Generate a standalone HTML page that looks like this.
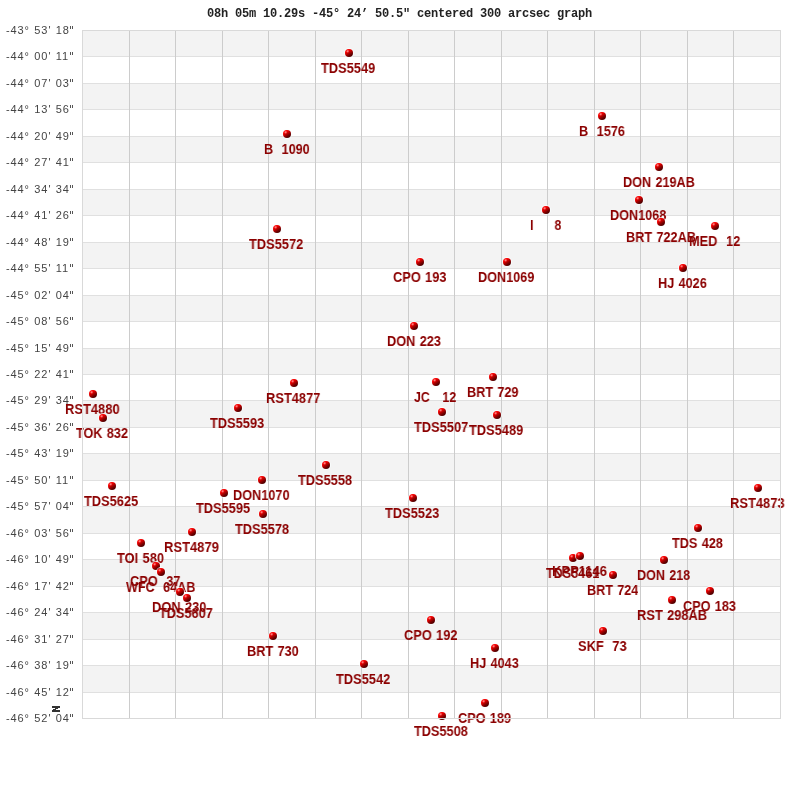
<!DOCTYPE html>
<html><head><meta charset="utf-8"><title>graph</title><style>
html,body{margin:0;padding:0;background:#fff;}
body{width:800px;height:800px;position:relative;overflow:hidden;}
.g{position:absolute;left:0;top:0;}
.t{position:absolute;left:207.1px;top:7px;font:bold 12px/14px "Liberation Mono",monospace;color:#222222;white-space:pre;letter-spacing:-0.2px;will-change:transform;}
.ax{position:absolute;left:6px;font:11px/12px "Liberation Sans",sans-serif;color:#444444;white-space:pre;letter-spacing:0.9px;word-spacing:0.5px;transform:scaleX(1.0);transform-origin:0 0;will-change:transform;}
.q{display:inline-block;vertical-align:top;position:relative;top:1.5px;left:0.5px;width:1px;height:3px;border-left:1px solid #555;border-right:1px solid #555;}
.d{position:absolute;width:8px;height:8px;border-radius:50%;background:radial-gradient(circle at 33% 28%, rgba(255,150,150,1) 0, rgba(255,60,60,0) 22%), linear-gradient(145deg, #ff0000 15%, #ee0000 32%, #c40000 45%, #940000 58%, #640000 72%, #480000 90%);box-shadow:0 0 0 1px rgba(250,255,255,0.75);}
.l{position:absolute;word-spacing:0.9px;font:bold 14.5px/20px "Liberation Sans",sans-serif;color:#8b0000;white-space:pre;transform-origin:0 0;will-change:transform;}
</style></head>
<body>
<svg class="g" width="800" height="800" viewBox="0 0 800 800"><rect x="82" y="30" width="698" height="26" fill="#f3f3f3"/><rect x="82" y="83" width="698" height="26" fill="#f3f3f3"/><rect x="82" y="136" width="698" height="26" fill="#f3f3f3"/><rect x="82" y="189" width="698" height="26" fill="#f3f3f3"/><rect x="82" y="242" width="698" height="26" fill="#f3f3f3"/><rect x="82" y="295" width="698" height="26" fill="#f3f3f3"/><rect x="82" y="348" width="698" height="26" fill="#f3f3f3"/><rect x="82" y="400" width="698" height="27" fill="#f3f3f3"/><rect x="82" y="453" width="698" height="27" fill="#f3f3f3"/><rect x="82" y="506" width="698" height="27" fill="#f3f3f3"/><rect x="82" y="559" width="698" height="27" fill="#f3f3f3"/><rect x="82" y="612" width="698" height="27" fill="#f3f3f3"/><rect x="82" y="665" width="698" height="27" fill="#f3f3f3"/><rect x="82" y="56" width="698" height="1" fill="#e0e0e0"/><rect x="82" y="83" width="698" height="1" fill="#e0e0e0"/><rect x="82" y="109" width="698" height="1" fill="#e0e0e0"/><rect x="82" y="136" width="698" height="1" fill="#e0e0e0"/><rect x="82" y="162" width="698" height="1" fill="#e0e0e0"/><rect x="82" y="189" width="698" height="1" fill="#e0e0e0"/><rect x="82" y="215" width="698" height="1" fill="#e0e0e0"/><rect x="82" y="242" width="698" height="1" fill="#e0e0e0"/><rect x="82" y="268" width="698" height="1" fill="#e0e0e0"/><rect x="82" y="295" width="698" height="1" fill="#e0e0e0"/><rect x="82" y="321" width="698" height="1" fill="#e0e0e0"/><rect x="82" y="348" width="698" height="1" fill="#e0e0e0"/><rect x="82" y="374" width="698" height="1" fill="#e0e0e0"/><rect x="82" y="400" width="698" height="1" fill="#e0e0e0"/><rect x="82" y="427" width="698" height="1" fill="#e0e0e0"/><rect x="82" y="453" width="698" height="1" fill="#e0e0e0"/><rect x="82" y="480" width="698" height="1" fill="#e0e0e0"/><rect x="82" y="506" width="698" height="1" fill="#e0e0e0"/><rect x="82" y="533" width="698" height="1" fill="#e0e0e0"/><rect x="82" y="559" width="698" height="1" fill="#e0e0e0"/><rect x="82" y="586" width="698" height="1" fill="#e0e0e0"/><rect x="82" y="612" width="698" height="1" fill="#e0e0e0"/><rect x="82" y="639" width="698" height="1" fill="#e0e0e0"/><rect x="82" y="665" width="698" height="1" fill="#e0e0e0"/><rect x="82" y="692" width="698" height="1" fill="#e0e0e0"/><rect x="129" y="30" width="1" height="688" fill="#cccccc"/><rect x="175" y="30" width="1" height="688" fill="#cccccc"/><rect x="222" y="30" width="1" height="688" fill="#cccccc"/><rect x="268" y="30" width="1" height="688" fill="#cccccc"/><rect x="315" y="30" width="1" height="688" fill="#cccccc"/><rect x="361" y="30" width="1" height="688" fill="#cccccc"/><rect x="408" y="30" width="1" height="688" fill="#cccccc"/><rect x="454" y="30" width="1" height="688" fill="#cccccc"/><rect x="501" y="30" width="1" height="688" fill="#cccccc"/><rect x="547" y="30" width="1" height="688" fill="#cccccc"/><rect x="594" y="30" width="1" height="688" fill="#cccccc"/><rect x="640" y="30" width="1" height="688" fill="#cccccc"/><rect x="687" y="30" width="1" height="688" fill="#cccccc"/><rect x="733" y="30" width="1" height="688" fill="#cccccc"/></svg>
<div class="t">08h 05m 10.29s -45° 24’ 50.5&quot; centered 300 arcsec graph</div>
<div class="ax" style="top:24.00px">-43° 53&#x27; 18<span class="q"></span></div><div class="ax" style="top:50.46px">-44° 00&#x27; 11<span class="q"></span></div><div class="ax" style="top:76.92px">-44° 07&#x27; 03<span class="q"></span></div><div class="ax" style="top:103.38px">-44° 13&#x27; 56<span class="q"></span></div><div class="ax" style="top:129.85px">-44° 20&#x27; 49<span class="q"></span></div><div class="ax" style="top:156.31px">-44° 27&#x27; 41<span class="q"></span></div><div class="ax" style="top:182.77px">-44° 34&#x27; 34<span class="q"></span></div><div class="ax" style="top:209.23px">-44° 41&#x27; 26<span class="q"></span></div><div class="ax" style="top:235.69px">-44° 48&#x27; 19<span class="q"></span></div><div class="ax" style="top:262.15px">-44° 55&#x27; 11<span class="q"></span></div><div class="ax" style="top:288.62px">-45° 02&#x27; 04<span class="q"></span></div><div class="ax" style="top:315.08px">-45° 08&#x27; 56<span class="q"></span></div><div class="ax" style="top:341.54px">-45° 15&#x27; 49<span class="q"></span></div><div class="ax" style="top:368.00px">-45° 22&#x27; 41<span class="q"></span></div><div class="ax" style="top:394.46px">-45° 29&#x27; 34<span class="q"></span></div><div class="ax" style="top:420.92px">-45° 36&#x27; 26<span class="q"></span></div><div class="ax" style="top:447.38px">-45° 43&#x27; 19<span class="q"></span></div><div class="ax" style="top:473.85px">-45° 50&#x27; 11<span class="q"></span></div><div class="ax" style="top:500.31px">-45° 57&#x27; 04<span class="q"></span></div><div class="ax" style="top:526.77px">-46° 03&#x27; 56<span class="q"></span></div><div class="ax" style="top:553.23px">-46° 10&#x27; 49<span class="q"></span></div><div class="ax" style="top:579.69px">-46° 17&#x27; 42<span class="q"></span></div><div class="ax" style="top:606.15px">-46° 24&#x27; 34<span class="q"></span></div><div class="ax" style="top:632.62px">-46° 31&#x27; 27<span class="q"></span></div><div class="ax" style="top:659.08px">-46° 38&#x27; 19<span class="q"></span></div><div class="ax" style="top:685.54px">-46° 45&#x27; 12<span class="q"></span></div><div class="ax" style="top:712.00px">-46° 52&#x27; 04<span class="q"></span></div>
<div class="d" style="left:345px;top:49px"></div><div class="l" style="left:321.25px;top:58px;transform:scaleX(0.8848)">TDS5549</div><div class="d" style="left:283px;top:130px"></div><div class="l" style="left:263.63px;top:139px;transform:scaleX(0.8676)">B  1090</div><div class="d" style="left:598px;top:112px"></div><div class="l" style="left:578.63px;top:121px;transform:scaleX(0.8725)">B  1576</div><div class="d" style="left:655px;top:163px"></div><div class="l" style="left:622.63px;top:172px;transform:scaleX(0.8731)">DON 219AB</div><div class="d" style="left:635px;top:196px"></div><div class="l" style="left:609.63px;top:205px;transform:scaleX(0.8730)">DON1068</div><div class="d" style="left:542px;top:206px"></div><div class="l" style="left:529.90px;top:215px;transform:scaleX(0.8511)">I     8</div><div class="d" style="left:273px;top:225px"></div><div class="l" style="left:248.90px;top:234px;transform:scaleX(0.8856)">TDS5572</div><div class="d" style="left:657px;top:218px"></div><div class="l" style="left:625.62px;top:227px;transform:scaleX(0.8754)">BRT 722AB</div><div class="d" style="left:711px;top:222px"></div><div class="l" style="left:688.62px;top:231px;transform:scaleX(0.8811)">MED  12</div><div class="d" style="left:416px;top:258px"></div><div class="l" style="left:392.81px;top:267px;transform:scaleX(0.8824)">CPO 193</div><div class="d" style="left:503px;top:258px"></div><div class="l" style="left:477.63px;top:267px;transform:scaleX(0.8730)">DON1069</div><div class="d" style="left:679px;top:264px"></div><div class="l" style="left:657.62px;top:273px;transform:scaleX(0.8756)">HJ 4026</div><div class="d" style="left:410px;top:322px"></div><div class="l" style="left:386.62px;top:331px;transform:scaleX(0.8787)">DON 223</div><div class="d" style="left:489px;top:373px"></div><div class="l" style="left:466.63px;top:382px;transform:scaleX(0.8739)">BRT 729</div><div class="d" style="left:432px;top:378px"></div><div class="l" style="left:414.04px;top:387px;transform:scaleX(0.8513)">JC   12</div><div class="d" style="left:290px;top:379px"></div><div class="l" style="left:265.61px;top:388px;transform:scaleX(0.8870)">RST4877</div><div class="d" style="left:89px;top:390px"></div><div class="l" style="left:64.61px;top:399px;transform:scaleX(0.8912)">RST4880</div><div class="d" style="left:234px;top:404px"></div><div class="l" style="left:209.90px;top:413px;transform:scaleX(0.8840)">TDS5593</div><div class="d" style="left:438px;top:408px"></div><div class="l" style="left:414.25px;top:417px;transform:scaleX(0.8848)">TDS5507</div><div class="d" style="left:493px;top:411px"></div><div class="l" style="left:469.25px;top:420px;transform:scaleX(0.8848)">TDS5489</div><div class="d" style="left:99px;top:414px"></div><div class="l" style="left:75.90px;top:423px;transform:scaleX(0.8737)">TOK 832</div><div class="d" style="left:322px;top:461px"></div><div class="l" style="left:297.90px;top:470px;transform:scaleX(0.8815)">TDS5558</div><div class="d" style="left:258px;top:476px"></div><div class="l" style="left:232.62px;top:485px;transform:scaleX(0.8770)">DON1070</div><div class="d" style="left:108px;top:482px"></div><div class="l" style="left:83.90px;top:491px;transform:scaleX(0.8836)">TDS5625</div><div class="d" style="left:754px;top:484px"></div><div class="l" style="left:729.61px;top:493px;transform:scaleX(0.8912)">RST4873</div><div class="d" style="left:220px;top:489px"></div><div class="l" style="left:195.90px;top:498px;transform:scaleX(0.8820)">TDS5595</div><div class="d" style="left:409px;top:494px"></div><div class="l" style="left:384.90px;top:503px;transform:scaleX(0.8856)">TDS5523</div><div class="d" style="left:259px;top:510px"></div><div class="l" style="left:234.90px;top:519px;transform:scaleX(0.8815)">TDS5578</div><div class="d" style="left:694px;top:524px"></div><div class="l" style="left:671.90px;top:533px;transform:scaleX(0.8753)">TDS 428</div><div class="d" style="left:188px;top:528px"></div><div class="l" style="left:163.60px;top:537px;transform:scaleX(0.8954)">RST4879</div><div class="d" style="left:137px;top:539px"></div><div class="l" style="left:116.90px;top:548px;transform:scaleX(0.8867)">TOI 580</div><div class="d" style="left:569px;top:554px"></div><div class="l" style="left:545.90px;top:563px;transform:scaleX(0.8689)">TDS5461</div><div class="d" style="left:576px;top:552px"></div><div class="l" style="left:552.10px;top:561px;transform:scaleX(0.8954)">KPP1146</div><div class="d" style="left:660px;top:556px"></div><div class="l" style="left:636.63px;top:565px;transform:scaleX(0.8667)">DON 218</div><div class="d" style="left:152px;top:562px"></div><div class="l" style="left:129.56px;top:571px;transform:scaleX(0.8800)">CPO  37</div><div class="d" style="left:157px;top:568px"></div><div class="l" style="left:126.25px;top:577px;transform:scaleX(0.8675)">WFC  64AB</div><div class="d" style="left:609px;top:571px"></div><div class="l" style="left:586.63px;top:580px;transform:scaleX(0.8707)">BRT 724</div><div class="d" style="left:706px;top:587px"></div><div class="l" style="left:683.31px;top:596px;transform:scaleX(0.8739)">CPO 183</div><div class="d" style="left:176px;top:588px"></div><div class="l" style="left:152.36px;top:597px;transform:scaleX(0.8870)">DON 230</div><div class="d" style="left:183px;top:594px"></div><div class="l" style="left:158.90px;top:603px;transform:scaleX(0.8774)">TDS5607</div><div class="d" style="left:668px;top:596px"></div><div class="l" style="left:636.61px;top:605px;transform:scaleX(0.8871)">RST 298AB</div><div class="d" style="left:427px;top:616px"></div><div class="l" style="left:404.06px;top:625px;transform:scaleX(0.8824)">CPO 192</div><div class="d" style="left:599px;top:627px"></div><div class="l" style="left:577.81px;top:636px;transform:scaleX(0.8843)">SKF  73</div><div class="d" style="left:269px;top:632px"></div><div class="l" style="left:246.62px;top:641px;transform:scaleX(0.8783)">BRT 730</div><div class="d" style="left:491px;top:644px"></div><div class="l" style="left:469.62px;top:653px;transform:scaleX(0.8756)">HJ 4043</div><div class="d" style="left:360px;top:660px"></div><div class="l" style="left:335.90px;top:669px;transform:scaleX(0.8856)">TDS5542</div><div class="d" style="left:481px;top:699px"></div><div class="l" style="left:458.26px;top:708px;transform:scaleX(0.8756)">CPO 189</div><div class="d" style="left:438px;top:712px"></div><div class="l" style="left:413.90px;top:721px;transform:scaleX(0.8774)">TDS5508</div>
<svg class="g" width="800" height="800" viewBox="0 0 800 800"><rect x="82" y="30" width="699" height="1" fill="#d9d9d9"/><rect x="82" y="718" width="699" height="1" fill="#d9d9d9"/><rect x="82" y="30" width="1" height="689" fill="#d9d9d9"/><rect x="780" y="30" width="1" height="689" fill="#d9d9d9"/><path d="M52 706h8v2h-8zM55 708h3v1h-3zM53 709h3v1h-3zM52 710h8v2h-8z" fill="#333333" shape-rendering="crispEdges"/></svg>
</body></html>
